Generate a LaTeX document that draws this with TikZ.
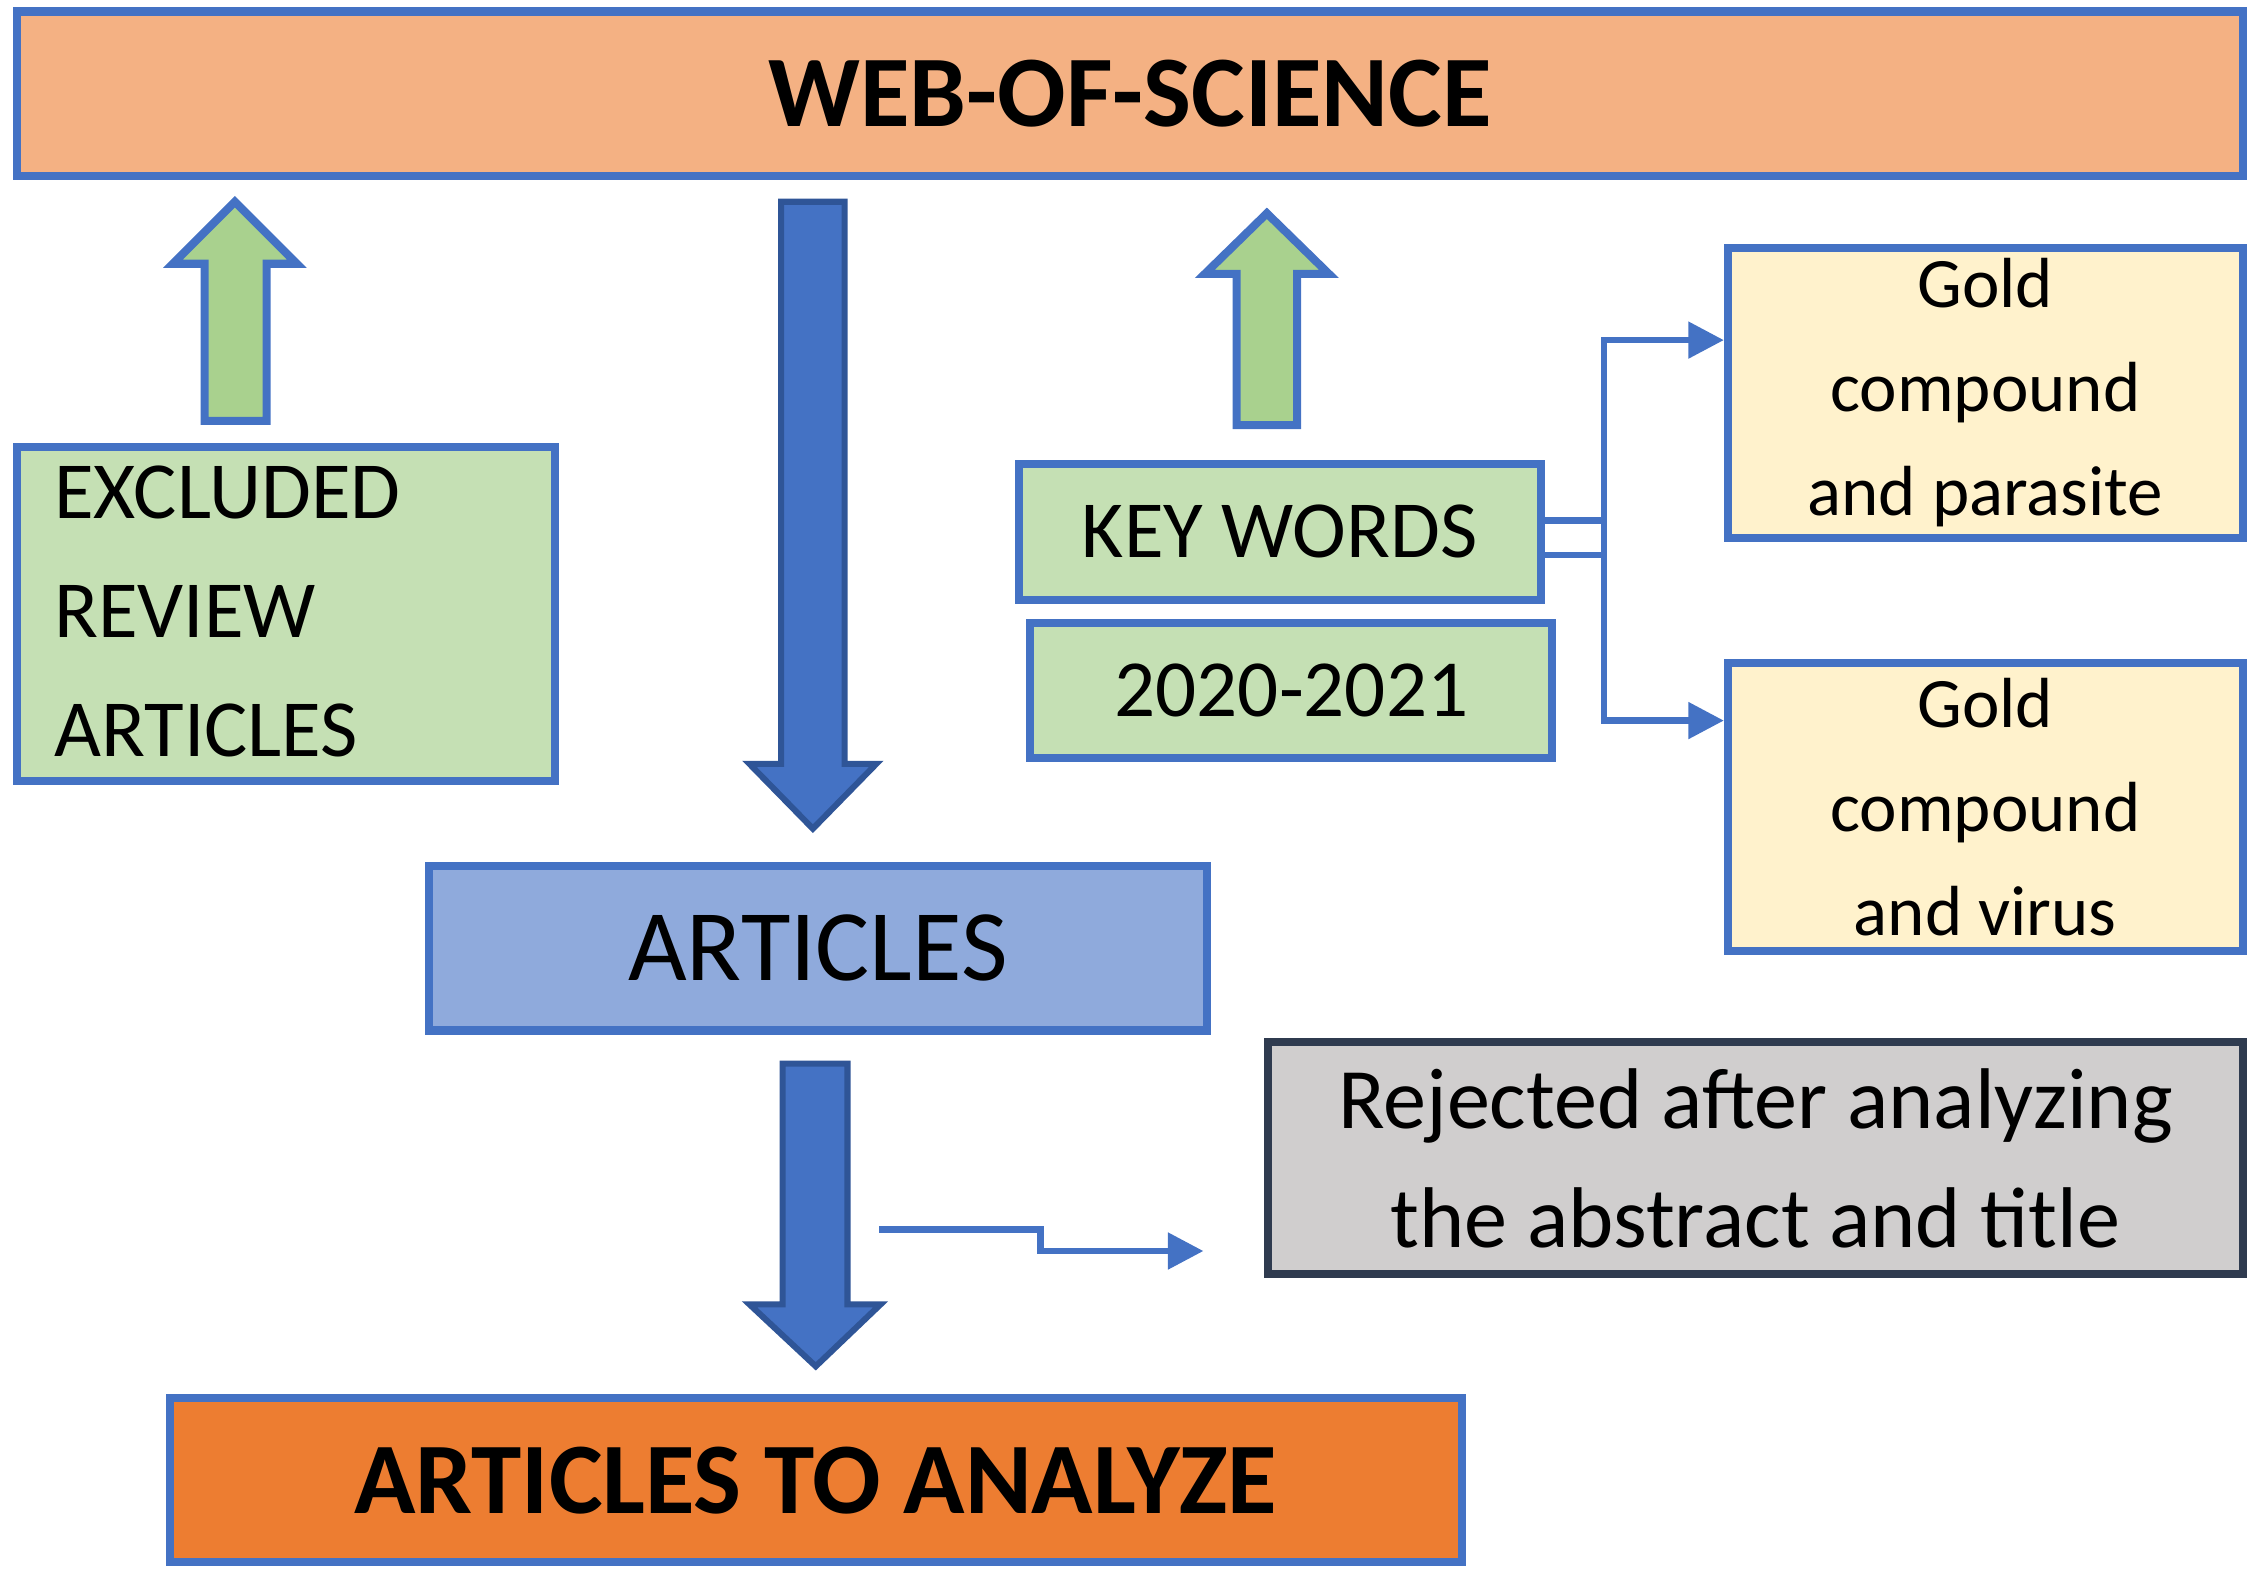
\documentclass[tikz,border=0pt]{standalone}
\usepackage{fontspec}
\setmainfont{Carlito}
\usetikzlibrary{arrows.meta}
\definecolor{bd}{HTML}{4472C4}
\definecolor{bdd}{HTML}{2F5597}
\tikzset{box/.style={draw=bd,line width=1.6pt,inner sep=0pt},
 garrow/.style={fill=green!0!white,fill={rgb,255:red,169;green,209;blue,142},draw=bd,line width=1.6pt},
 barrow/.style={fill=bd,draw=bdd,line width=1.2pt},
 conn/.style={draw=bd,line width=1.3pt,-{Triangle[length=7pt,width=7pt]}}}
\begin{document}
\begin{tikzpicture}[x=0.01cm,y=-0.01cm]
\useasboundingbox (0,0) rectangle (1566,1094);
\node[box,fill={rgb,255:red,244;green,177;blue,131},minimum width=1544\pgflinewidth*0+15.44cm,minimum height=1.14cm,font=\fontsize{20}{24}\selectfont\bfseries] (wos) at (784,65) {WEB-OF-SCIENCE};
\draw[garrow] (142,292)--(142,183)--(120,183)--(163,140)--(206,183)--(185,183)--(185,292)--cycle;
\draw[garrow] (858,295)--(858,190)--(836,190)--(879,148)--(922,190)--(900,190)--(900,295)--cycle;
\draw[barrow] (542,140)--(586,140)--(586,530)--(608,530)--(564,575)--(520,530)--(542,530)--cycle;
\draw[barrow] (543,738)--(588,738)--(588,905)--(611,905)--(566,948)--(520,905)--(543,905)--cycle;
\node[box,fill={rgb,255:red,197;green,224;blue,180},minimum width=3.73cm,minimum height=2.32cm] (exc) at (198.5,426) {};
\node[anchor=west,align=left,font=\fontsize{16}{23.5}\selectfont,inner sep=0pt] (exct) at (37,424) {EXCLUDED\\REVIEW\\ARTICLES};
\node[box,fill={rgb,255:red,197;green,224;blue,180},minimum width=3.62cm,minimum height=0.94cm,font=\fontsize{16}{19}\selectfont] (kw) at (888,369) {KEY WORDS};
\node[box,fill={rgb,255:red,197;green,224;blue,180},minimum width=3.62cm,minimum height=0.94cm,font=\fontsize{16}{19}\selectfont] (yr) at (896,479) {2020-2021};
\node[box,fill={rgb,255:red,255;green,242;blue,204},minimum width=3.57cm,minimum height=2.01cm,align=center,font=\fontsize{14}{20.5}\selectfont] (gp) at (1377.5,272.5) {Gold\\compound\\and parasite};
\node[box,fill={rgb,255:red,255;green,242;blue,204},minimum width=3.57cm,minimum height=2.0cm,align=center,font=\fontsize{14}{20.5}\selectfont] (gv) at (1377.5,560) {Gold\\compound\\and virus};
\draw[conn] ([yshift=-0.16cm]kw.east) -- ++(41,0) |- ([yshift=0.365cm]gp.west);
\draw[conn] ([yshift=0.08cm]kw.east) -- ++(41,0) |- ([yshift=0.6cm]gv.west);
\node[box,fill={rgb,255:red,143;green,170;blue,220},minimum width=5.39cm,minimum height=1.14cm,font=\fontsize{20}{24}\selectfont] (art) at (567.5,658) {ARTICLES};
\node[box,draw={rgb,255:red,47;green,59;blue,79},fill={rgb,255:red,208;green,206;blue,206},minimum width=6.76cm,minimum height=1.61cm,align=center,font=\fontsize{17}{23.5}\selectfont] (rej) at (1218,803.5) {Rejected after analyzing\\the abstract and title};
\coordinate (s) at (610,853);
\coordinate (e) at (835,868);
\draw[conn] (s) -- (722,853) -- (722,868) -- (e);
\node[box,fill={rgb,255:red,237;green,125;blue,49},minimum width=8.96cm,minimum height=1.14cm,font=\fontsize{20}{24}\selectfont\bfseries] (ana) at (566,1027) {ARTICLES TO ANALYZE};
\end{tikzpicture}
\end{document}
